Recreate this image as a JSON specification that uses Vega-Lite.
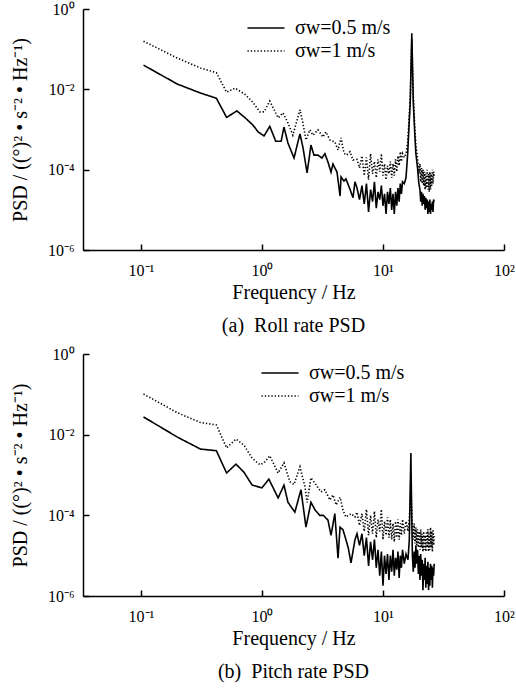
{
"$schema": "https://vega.github.io/schema/vega-lite/v6.json",
"padding": {"left": 10, "top": 1, "right": 4, "bottom": 4},
"background": "white",
"bounds": "flush",
"spacing": 104,
"data": {"values": [
{"p":"a","s":"s05","f":0.105,"v":0.04},{"p":"a","s":"s05","f":0.2,"v":0.0135},{"p":"a","s":"s05","f":0.31,"v":0.0081},{"p":"a","s":"s05","f":0.42,"v":0.006},{"p":"a","s":"s05","f":0.51,"v":0.002},{"p":"a","s":"s05","f":0.62,"v":0.0029},{"p":"a","s":"s05","f":0.72,"v":0.002},{"p":"a","s":"s05","f":0.84,"v":0.0013},{"p":"a","s":"s05","f":0.93,"v":0.00087},{"p":"a","s":"s05","f":1.04,"v":0.00069},{"p":"a","s":"s05","f":1.16,"v":0.0012},{"p":"a","s":"s05","f":1.3,"v":0.00051},{"p":"a","s":"s05","f":1.44,"v":0.00051},{"p":"a","s":"s05","f":1.52,"v":0.00115},{"p":"a","s":"s05","f":1.64,"v":0.00046},{"p":"a","s":"s05","f":1.84,"v":0.000195},{"p":"a","s":"s05","f":2.06,"v":0.00078},{"p":"a","s":"s05","f":2.18,"v":0.00036},{"p":"a","s":"s05","f":2.36,"v":8.3e-5},{"p":"a","s":"s05","f":2.54,"v":0.00041},{"p":"a","s":"s05","f":2.69,"v":0.00023},{"p":"a","s":"s05","f":2.9,"v":0.00023},{"p":"a","s":"s05","f":3.13,"v":0.000195},{"p":"a","s":"s05","f":3.31,"v":0.00025},{"p":"a","s":"s05","f":3.51,"v":0.000155},{"p":"a","s":"s05","f":3.72,"v":8.7e-5},{"p":"a","s":"s05","f":3.86,"v":0.000138},{"p":"a","s":"s05","f":4.17,"v":8.7e-5},{"p":"a","s":"s05","f":4.42,"v":2.2e-5},{"p":"a","s":"s05","f":4.5,"v":6.6e-5},{"p":"a","s":"s05","f":4.76,"v":5.2e-5},{"p":"a","s":"s05","f":4.94,"v":5.9e-5},{"p":"a","s":"s05","f":5.33,"v":3.3e-5},{"p":"a","s":"s05","f":5.65,"v":2e-5},{"p":"a","s":"s05","f":5.87,"v":5e-5},
{"p":"a","s":"s05","f":6.1,"v":3.5e-5},{"p":"a","s":"s05","f":6.4,"v":1.8e-5},{"p":"a","s":"s05","f":6.7,"v":4e-5},{"p":"a","s":"s05","f":7.0,"v":1.4e-5},{"p":"a","s":"s05","f":7.3,"v":4.5e-5},{"p":"a","s":"s05","f":7.6,"v":8.9e-6},{"p":"a","s":"s05","f":7.9,"v":3.2e-5},{"p":"a","s":"s05","f":8.2,"v":1.6e-5},{"p":"a","s":"s05","f":8.5,"v":5e-5},{"p":"a","s":"s05","f":8.8,"v":1.1e-5},{"p":"a","s":"s05","f":9.1,"v":2.8e-5},{"p":"a","s":"s05","f":9.4,"v":1.8e-5},{"p":"a","s":"s05","f":9.7,"v":4e-5},{"p":"a","s":"s05","f":10.0,"v":1.26e-5},{"p":"a","s":"s05","f":10.3,"v":2.5e-5},{"p":"a","s":"s05","f":10.6,"v":7.9e-6},{"p":"a","s":"s05","f":10.9,"v":2.8e-5},{"p":"a","s":"s05","f":11.2,"v":1.4e-5},{"p":"a","s":"s05","f":11.5,"v":3.5e-5},{"p":"a","s":"s05","f":11.8,"v":1e-5},{"p":"a","s":"s05","f":12.1,"v":2.5e-5},{"p":"a","s":"s05","f":12.4,"v":7.9e-6},{"p":"a","s":"s05","f":12.7,"v":2.8e-5},{"p":"a","s":"s05","f":13.0,"v":1.26e-5},{"p":"a","s":"s05","f":13.3,"v":3.5e-5},{"p":"a","s":"s05","f":13.6,"v":1.6e-5},{"p":"a","s":"s05","f":13.9,"v":4.5e-5},{"p":"a","s":"s05","f":14.2,"v":2.5e-5},{"p":"a","s":"s05","f":14.5,"v":5e-5},{"p":"a","s":"s05","f":15.0,"v":4.5e-5},{"p":"a","s":"s05","f":15.5,"v":6.3e-5},{"p":"a","s":"s05","f":16.0,"v":0.00025},{"p":"a","s":"s05","f":16.3,"v":0.00079},{"p":"a","s":"s05","f":16.8,"v":0.005},{"p":"a","s":"s05","f":17.3,"v":0.25},{"p":"a","s":"s05","f":17.8,"v":0.005},{"p":"a","s":"s05","f":18.3,"v":0.00079},{"p":"a","s":"s05","f":18.7,"v":0.00025},{"p":"a","s":"s05","f":19.3,"v":0.00011},{"p":"a","s":"s05","f":19.8,"v":4.5e-5},{"p":"a","s":"s05","f":20.2,"v":3.2e-5},{"p":"a","s":"s05","f":20.5,"v":1.6e-5},{"p":"a","s":"s05","f":20.8,"v":2.8e-5},{"p":"a","s":"s05","f":21.1,"v":1.26e-5},{"p":"a","s":"s05","f":21.4,"v":2.5e-5},{"p":"a","s":"s05","f":21.7,"v":1.4e-5},{"p":"a","s":"s05","f":22.0,"v":2.2e-5},{"p":"a","s":"s05","f":22.3,"v":1e-5},{"p":"a","s":"s05","f":22.6,"v":2e-5},{"p":"a","s":"s05","f":22.9,"v":1.1e-5},{"p":"a","s":"s05","f":23.2,"v":1.8e-5},{"p":"a","s":"s05","f":23.5,"v":7.9e-6},{"p":"a","s":"s05","f":23.8,"v":1.6e-5},{"p":"a","s":"s05","f":24.1,"v":8.9e-6},{"p":"a","s":"s05","f":24.4,"v":1.8e-5},{"p":"a","s":"s05","f":24.7,"v":7.9e-6},{"p":"a","s":"s05","f":25.0,"v":1.4e-5},{"p":"a","s":"s05","f":25.3,"v":1e-5},{"p":"a","s":"s05","f":25.6,"v":1.6e-5},{"p":"a","s":"s05","f":25.9,"v":8.9e-6},{"p":"a","s":"s05","f":26.2,"v":1.8e-5},{"p":"a","s":"s05","f":26.5,"v":1.6e-5},
{"p":"a","s":"s1","f":0.105,"v":0.158},{"p":"a","s":"s1","f":0.2,"v":0.06},{"p":"a","s":"s1","f":0.31,"v":0.034},{"p":"a","s":"s1","f":0.42,"v":0.026},{"p":"a","s":"s1","f":0.51,"v":0.0085},{"p":"a","s":"s1","f":0.6,"v":0.0107},{"p":"a","s":"s1","f":0.72,"v":0.0076},{"p":"a","s":"s1","f":0.84,"v":0.0048},{"p":"a","s":"s1","f":0.96,"v":0.00275},{"p":"a","s":"s1","f":1.04,"v":0.00275},{"p":"a","s":"s1","f":1.16,"v":0.0051},{"p":"a","s":"s1","f":1.36,"v":0.00195},{"p":"a","s":"s1","f":1.49,"v":0.0026},{"p":"a","s":"s1","f":1.64,"v":0.00145},{"p":"a","s":"s1","f":1.8,"v":0.00072},{"p":"a","s":"s1","f":2.06,"v":0.0031},{"p":"a","s":"s1","f":2.18,"v":0.00145},{"p":"a","s":"s1","f":2.31,"v":0.00055},{"p":"a","s":"s1","f":2.49,"v":0.00098},{"p":"a","s":"s1","f":2.64,"v":0.00072},{"p":"a","s":"s1","f":2.9,"v":0.00098},{"p":"a","s":"s1","f":3.19,"v":0.00065},{"p":"a","s":"s1","f":3.38,"v":0.00087},{"p":"a","s":"s1","f":3.64,"v":0.00055},{"p":"a","s":"s1","f":4.0,"v":0.00049},{"p":"a","s":"s1","f":4.25,"v":0.00031},{"p":"a","s":"s1","f":4.5,"v":0.00062},{"p":"a","s":"s1","f":4.76,"v":0.00026},{"p":"a","s":"s1","f":5.0,"v":0.00023},{"p":"a","s":"s1","f":5.33,"v":0.00028},{"p":"a","s":"s1","f":5.65,"v":0.000174},
{"p":"a","s":"s1","f":6.1,"v":0.00018},{"p":"a","s":"s1","f":6.4,"v":0.00011},{"p":"a","s":"s1","f":6.7,"v":0.00022},{"p":"a","s":"s1","f":7.0,"v":7.1e-5},{"p":"a","s":"s1","f":7.3,"v":0.0002},{"p":"a","s":"s1","f":7.6,"v":5.6e-5},{"p":"a","s":"s1","f":7.9,"v":0.00025},{"p":"a","s":"s1","f":8.2,"v":7.9e-5},{"p":"a","s":"s1","f":8.5,"v":0.00016},{"p":"a","s":"s1","f":8.8,"v":6.3e-5},{"p":"a","s":"s1","f":9.1,"v":0.00018},{"p":"a","s":"s1","f":9.4,"v":8.9e-5},{"p":"a","s":"s1","f":9.7,"v":0.00025},{"p":"a","s":"s1","f":10.0,"v":7.1e-5},{"p":"a","s":"s1","f":10.3,"v":0.00014},{"p":"a","s":"s1","f":10.6,"v":5.6e-5},{"p":"a","s":"s1","f":10.9,"v":0.000126},{"p":"a","s":"s1","f":11.2,"v":7.9e-5},{"p":"a","s":"s1","f":11.5,"v":0.00016},{"p":"a","s":"s1","f":11.8,"v":6.3e-5},{"p":"a","s":"s1","f":12.1,"v":0.00014},{"p":"a","s":"s1","f":12.4,"v":7.1e-5},{"p":"a","s":"s1","f":12.7,"v":0.00018},{"p":"a","s":"s1","f":13.0,"v":8.9e-5},{"p":"a","s":"s1","f":13.3,"v":0.00022},{"p":"a","s":"s1","f":13.6,"v":0.000126},{"p":"a","s":"s1","f":13.9,"v":0.00028},{"p":"a","s":"s1","f":14.2,"v":0.00016},{"p":"a","s":"s1","f":14.5,"v":0.00025},{"p":"a","s":"s1","f":15.0,"v":0.0002},{"p":"a","s":"s1","f":15.5,"v":0.00025},{"p":"a","s":"s1","f":16.0,"v":0.0005},{"p":"a","s":"s1","f":16.3,"v":0.00126},{"p":"a","s":"s1","f":16.8,"v":0.0063},{"p":"a","s":"s1","f":17.3,"v":0.178},{"p":"a","s":"s1","f":17.8,"v":0.0063},{"p":"a","s":"s1","f":18.3,"v":0.00126},{"p":"a","s":"s1","f":18.7,"v":0.0004},{"p":"a","s":"s1","f":19.3,"v":0.0002},{"p":"a","s":"s1","f":19.8,"v":7.9e-5},{"p":"a","s":"s1","f":20.2,"v":0.00014},{"p":"a","s":"s1","f":20.5,"v":5e-5},{"p":"a","s":"s1","f":20.8,"v":0.00011},{"p":"a","s":"s1","f":21.1,"v":4.5e-5},{"p":"a","s":"s1","f":21.4,"v":0.0001},{"p":"a","s":"s1","f":21.7,"v":4e-5},{"p":"a","s":"s1","f":22.0,"v":8.9e-5},{"p":"a","s":"s1","f":22.3,"v":3.2e-5},{"p":"a","s":"s1","f":22.6,"v":7.9e-5},{"p":"a","s":"s1","f":22.9,"v":3.5e-5},{"p":"a","s":"s1","f":23.2,"v":0.0001},{"p":"a","s":"s1","f":23.5,"v":3.2e-5},{"p":"a","s":"s1","f":23.8,"v":7.9e-5},{"p":"a","s":"s1","f":24.1,"v":2.8e-5},{"p":"a","s":"s1","f":24.4,"v":8.9e-5},{"p":"a","s":"s1","f":24.7,"v":3.2e-5},{"p":"a","s":"s1","f":25.0,"v":7.9e-5},{"p":"a","s":"s1","f":25.3,"v":4e-5},{"p":"a","s":"s1","f":25.6,"v":0.0001},{"p":"a","s":"s1","f":25.9,"v":4.5e-5},{"p":"a","s":"s1","f":26.2,"v":8.9e-5},{"p":"a","s":"s1","f":26.5,"v":6.3e-5},
{"p":"b","s":"s05","f":0.105,"v":0.0275},{"p":"b","s":"s05","f":0.2,"v":0.0087},{"p":"b","s":"s05","f":0.31,"v":0.0044},{"p":"b","s":"s05","f":0.42,"v":0.004},{"p":"b","s":"s05","f":0.51,"v":0.00112},{"p":"b","s":"s05","f":0.61,"v":0.00186},{"p":"b","s":"s05","f":0.71,"v":0.00117},{"p":"b","s":"s05","f":0.83,"v":0.00056},{"p":"b","s":"s05","f":1.0,"v":0.00048},{"p":"b","s":"s05","f":1.14,"v":0.00079},{"p":"b","s":"s05","f":1.36,"v":0.00027},{"p":"b","s":"s05","f":1.52,"v":0.00056},{"p":"b","s":"s05","f":1.64,"v":0.00021},{"p":"b","s":"s05","f":1.87,"v":0.00012},{"p":"b","s":"s05","f":2.1,"v":0.00043},{"p":"b","s":"s05","f":2.31,"v":5.1e-5},{"p":"b","s":"s05","f":2.54,"v":0.00021},{"p":"b","s":"s05","f":2.75,"v":0.000135},{"p":"b","s":"s05","f":3.0,"v":0.0001},{"p":"b","s":"s05","f":3.22,"v":0.0001},{"p":"b","s":"s05","f":3.51,"v":7.6e-5},{"p":"b","s":"s05","f":3.72,"v":3.2e-5},{"p":"b","s":"s05","f":4.0,"v":0.00011},{"p":"b","s":"s05","f":4.25,"v":8.7e-6},{"p":"b","s":"s05","f":4.42,"v":5.1e-5},{"p":"b","s":"s05","f":4.67,"v":4.4e-5},{"p":"b","s":"s05","f":4.94,"v":2.5e-5},{"p":"b","s":"s05","f":5.17,"v":1.55e-5},{"p":"b","s":"s05","f":5.44,"v":6.6e-6},{"p":"b","s":"s05","f":5.87,"v":2.5e-5},
{"p":"b","s":"s05","f":6.1,"v":3.5e-5},{"p":"b","s":"s05","f":6.4,"v":1.8e-5},{"p":"b","s":"s05","f":6.7,"v":3.5e-5},{"p":"b","s":"s05","f":7.0,"v":1e-5},{"p":"b","s":"s05","f":7.3,"v":2.8e-5},{"p":"b","s":"s05","f":7.6,"v":5.6e-6},{"p":"b","s":"s05","f":7.9,"v":2.2e-5},{"p":"b","s":"s05","f":8.2,"v":7.9e-6},{"p":"b","s":"s05","f":8.5,"v":2.5e-5},{"p":"b","s":"s05","f":8.8,"v":5e-6},{"p":"b","s":"s05","f":9.1,"v":1.4e-5},{"p":"b","s":"s05","f":9.4,"v":3.2e-6},{"p":"b","s":"s05","f":9.7,"v":1.26e-5},{"p":"b","s":"s05","f":10.0,"v":1.8e-6},{"p":"b","s":"s05","f":10.3,"v":1e-5},{"p":"b","s":"s05","f":10.6,"v":3.5e-6},{"p":"b","s":"s05","f":10.9,"v":1.1e-5},{"p":"b","s":"s05","f":11.2,"v":2.5e-6},{"p":"b","s":"s05","f":11.5,"v":1e-5},{"p":"b","s":"s05","f":11.8,"v":4e-6},{"p":"b","s":"s05","f":12.1,"v":1.4e-5},{"p":"b","s":"s05","f":12.4,"v":3.2e-6},{"p":"b","s":"s05","f":12.7,"v":8.9e-6},{"p":"b","s":"s05","f":13.0,"v":4.5e-6},{"p":"b","s":"s05","f":13.3,"v":1.26e-5},{"p":"b","s":"s05","f":13.6,"v":2.8e-6},{"p":"b","s":"s05","f":13.9,"v":1e-5},{"p":"b","s":"s05","f":14.2,"v":5e-6},{"p":"b","s":"s05","f":14.5,"v":1.4e-5},{"p":"b","s":"s05","f":15.0,"v":6.3e-6},{"p":"b","s":"s05","f":15.5,"v":1.1e-5},{"p":"b","s":"s05","f":16.1,"v":7.9e-6},{"p":"b","s":"s05","f":16.5,"v":2.5e-5},{"p":"b","s":"s05","f":16.8,"v":0.0005},{"p":"b","s":"s05","f":17.0,"v":0.0035},{"p":"b","s":"s05","f":17.2,"v":0.00025},{"p":"b","s":"s05","f":17.5,"v":1e-5},{"p":"b","s":"s05","f":17.8,"v":4e-6},{"p":"b","s":"s05","f":18.1,"v":1.26e-5},{"p":"b","s":"s05","f":18.4,"v":5e-6},{"p":"b","s":"s05","f":18.7,"v":1.8e-5},{"p":"b","s":"s05","f":19.0,"v":6.3e-6},{"p":"b","s":"s05","f":19.3,"v":1.4e-5},{"p":"b","s":"s05","f":19.6,"v":3.5e-6},{"p":"b","s":"s05","f":19.9,"v":1e-5},{"p":"b","s":"s05","f":20.2,"v":2.5e-6},{"p":"b","s":"s05","f":20.5,"v":1.1e-5},{"p":"b","s":"s05","f":20.8,"v":3.2e-6},{"p":"b","s":"s05","f":21.1,"v":7.9e-6},{"p":"b","s":"s05","f":21.4,"v":1.4e-6},{"p":"b","s":"s05","f":21.7,"v":6.3e-6},{"p":"b","s":"s05","f":22.0,"v":2.5e-6},{"p":"b","s":"s05","f":22.3,"v":8.9e-6},{"p":"b","s":"s05","f":22.6,"v":1.6e-6},{"p":"b","s":"s05","f":22.9,"v":5.6e-6},{"p":"b","s":"s05","f":23.2,"v":2e-6},{"p":"b","s":"s05","f":23.5,"v":7.1e-6},{"p":"b","s":"s05","f":23.8,"v":1.4e-6},{"p":"b","s":"s05","f":24.1,"v":5e-6},{"p":"b","s":"s05","f":24.4,"v":1.8e-6},{"p":"b","s":"s05","f":24.7,"v":6.3e-6},{"p":"b","s":"s05","f":25.0,"v":2.5e-6},{"p":"b","s":"s05","f":25.3,"v":5.6e-6},{"p":"b","s":"s05","f":25.6,"v":1.6e-6},{"p":"b","s":"s05","f":25.9,"v":5e-6},{"p":"b","s":"s05","f":26.2,"v":3.2e-6},{"p":"b","s":"s05","f":26.5,"v":6.3e-6},
{"p":"b","s":"s1","f":0.105,"v":0.102},{"p":"b","s":"s1","f":0.2,"v":0.035},{"p":"b","s":"s1","f":0.31,"v":0.02},{"p":"b","s":"s1","f":0.42,"v":0.0174},{"p":"b","s":"s1","f":0.51,"v":0.0047},{"p":"b","s":"s1","f":0.61,"v":0.0078},{"p":"b","s":"s1","f":0.71,"v":0.0055},{"p":"b","s":"s1","f":0.83,"v":0.0026},{"p":"b","s":"s1","f":0.96,"v":0.0018},{"p":"b","s":"s1","f":1.04,"v":0.002},{"p":"b","s":"s1","f":1.16,"v":0.003},{"p":"b","s":"s1","f":1.36,"v":0.00112},{"p":"b","s":"s1","f":1.52,"v":0.002},{"p":"b","s":"s1","f":1.7,"v":0.00068},{"p":"b","s":"s1","f":1.84,"v":0.00058},{"p":"b","s":"s1","f":2.06,"v":0.0016},{"p":"b","s":"s1","f":2.27,"v":0.0005},{"p":"b","s":"s1","f":2.36,"v":0.00021},{"p":"b","s":"s1","f":2.54,"v":0.00085},{"p":"b","s":"s1","f":2.74,"v":0.00063},{"p":"b","s":"s1","f":3.07,"v":0.00038},{"p":"b","s":"s1","f":3.31,"v":0.00043},{"p":"b","s":"s1","f":3.64,"v":0.00024},{"p":"b","s":"s1","f":3.86,"v":0.00032},{"p":"b","s":"s1","f":4.1,"v":0.00018},{"p":"b","s":"s1","f":4.42,"v":0.00028},{"p":"b","s":"s1","f":4.67,"v":0.000135},{"p":"b","s":"s1","f":4.94,"v":9.1e-5},{"p":"b","s":"s1","f":5.44,"v":0.00011},{"p":"b","s":"s1","f":5.87,"v":9.1e-5},
{"p":"b","s":"s1","f":6.1,"v":0.00012},{"p":"b","s":"s1","f":6.4,"v":5.6e-5},{"p":"b","s":"s1","f":6.7,"v":0.00011},{"p":"b","s":"s1","f":7.0,"v":4e-5},{"p":"b","s":"s1","f":7.3,"v":0.00014},{"p":"b","s":"s1","f":7.6,"v":3.2e-5},{"p":"b","s":"s1","f":7.9,"v":0.0001},{"p":"b","s":"s1","f":8.2,"v":3.5e-5},{"p":"b","s":"s1","f":8.5,"v":0.000126},{"p":"b","s":"s1","f":8.8,"v":2.8e-5},{"p":"b","s":"s1","f":9.1,"v":7.9e-5},{"p":"b","s":"s1","f":9.4,"v":4e-5},{"p":"b","s":"s1","f":9.7,"v":0.00014},{"p":"b","s":"s1","f":10.0,"v":2.5e-5},{"p":"b","s":"s1","f":10.3,"v":7.1e-5},{"p":"b","s":"s1","f":10.6,"v":3.2e-5},{"p":"b","s":"s1","f":10.9,"v":8.9e-5},{"p":"b","s":"s1","f":11.2,"v":2.8e-5},{"p":"b","s":"s1","f":11.5,"v":7.9e-5},{"p":"b","s":"s1","f":11.8,"v":2.5e-5},{"p":"b","s":"s1","f":12.1,"v":6.3e-5},{"p":"b","s":"s1","f":12.4,"v":2.2e-5},{"p":"b","s":"s1","f":12.7,"v":7.1e-5},{"p":"b","s":"s1","f":13.0,"v":2.8e-5},{"p":"b","s":"s1","f":13.3,"v":7.9e-5},{"p":"b","s":"s1","f":13.6,"v":2.5e-5},{"p":"b","s":"s1","f":13.9,"v":6.3e-5},{"p":"b","s":"s1","f":14.2,"v":3.2e-5},{"p":"b","s":"s1","f":14.5,"v":7.9e-5},{"p":"b","s":"s1","f":15.0,"v":3.5e-5},{"p":"b","s":"s1","f":15.5,"v":7.1e-5},{"p":"b","s":"s1","f":16.1,"v":4e-5},{"p":"b","s":"s1","f":16.5,"v":7.9e-5},{"p":"b","s":"s1","f":16.8,"v":0.00025},{"p":"b","s":"s1","f":17.0,"v":0.00079},{"p":"b","s":"s1","f":17.2,"v":0.0002},{"p":"b","s":"s1","f":17.5,"v":5e-5},{"p":"b","s":"s1","f":17.8,"v":2.5e-5},{"p":"b","s":"s1","f":18.1,"v":6.3e-5},{"p":"b","s":"s1","f":18.4,"v":2e-5},{"p":"b","s":"s1","f":18.7,"v":5e-5},{"p":"b","s":"s1","f":19.0,"v":1.8e-5},{"p":"b","s":"s1","f":19.3,"v":4.5e-5},{"p":"b","s":"s1","f":19.6,"v":1.6e-5},{"p":"b","s":"s1","f":19.9,"v":4e-5},{"p":"b","s":"s1","f":20.2,"v":1.4e-5},{"p":"b","s":"s1","f":20.5,"v":4.5e-5},{"p":"b","s":"s1","f":20.8,"v":1.6e-5},{"p":"b","s":"s1","f":21.1,"v":3.5e-5},{"p":"b","s":"s1","f":21.4,"v":1.26e-5},{"p":"b","s":"s1","f":21.7,"v":4e-5},{"p":"b","s":"s1","f":22.0,"v":1.4e-5},{"p":"b","s":"s1","f":22.3,"v":3.2e-5},{"p":"b","s":"s1","f":22.6,"v":1.26e-5},{"p":"b","s":"s1","f":22.9,"v":4e-5},{"p":"b","s":"s1","f":23.2,"v":1.6e-5},{"p":"b","s":"s1","f":23.5,"v":4.5e-5},{"p":"b","s":"s1","f":23.8,"v":1.26e-5},{"p":"b","s":"s1","f":24.1,"v":3.5e-5},{"p":"b","s":"s1","f":24.4,"v":1.4e-5},{"p":"b","s":"s1","f":24.7,"v":5e-5},{"p":"b","s":"s1","f":25.0,"v":1.6e-5},{"p":"b","s":"s1","f":25.3,"v":4e-5},{"p":"b","s":"s1","f":25.6,"v":1.26e-5},{"p":"b","s":"s1","f":25.9,"v":4.5e-5},{"p":"b","s":"s1","f":26.2,"v":1.8e-5},{"p":"b","s":"s1","f":26.5,"v":3.5e-5}
]},
"vconcat": [
{
"title": {"text": "(a) \u00a0Roll rate PSD", "orient": "bottom", "anchor": "middle", "offset": 14, "font": "Liberation Serif", "fontSize": 20, "fontWeight": "normal", "color": "black"},
"width": 421, "height": 241,
"transform": [{"filter": "datum.p === 'a'"}],
"mark": {"type": "line", "color": "black", "strokeWidth": 1.6, "strokeJoin": "miter", "clip": true},
"encoding": {
"x": {"field": "f", "type": "quantitative", "scale": {"type": "log", "domain": [0.0332, 100], "nice": false}, "axis": {"title": "Frequency / Hz", "values": [0.1, 1, 10, 100], "labelExpr": "datum.value < 0.5 ? '10⁻¹' : datum.value < 5 ? '10⁰' : datum.value < 50 ? '10¹' : '10²'", "tickSize": -6, "tickColor": "black", "tickWidth": 1.5, "domainColor": "black", "domainWidth": 1.5, "labelPadding": 18, "labelDx": -4, "titlePadding": 4}},
"y": {"field": "v", "type": "quantitative", "scale": {"type": "log", "domain": [1e-6, 1], "nice": false}, "axis": {"title": "PSD / ((°)² • s⁻² • Hz⁻¹)", "values": [1e-6, 1e-4, 1e-2, 1], "labelExpr": "datum.value > 0.5 ? '10⁰' : datum.value > 0.005 ? '10⁻²' : datum.value > 5e-5 ? '10⁻⁴' : '10⁻⁶'", "tickSize": -6, "tickColor": "black", "tickWidth": 1.5, "domainColor": "black", "domainWidth": 1.5, "labelPadding": 15, "labelDy": 2, "titlePadding": 17}},
"strokeDash": {"field": "s", "type": "nominal", "scale": {"domain": ["s05", "s1"], "range": [[1, 0], [1.3, 2]]}, "legend": {"orient": "none", "legendX": 173, "legendY": 9, "title": null, "labelExpr": "datum.value === 's05' ? 'σw=0.5 m/s' : 'σw=1 m/s'", "symbolType": "M-4,0H4", "symbolSize": 85.6, "symbolStrokeWidth": 1.5, "symbolStrokeColor": "black", "labelFont": "Liberation Serif", "labelFontSize": 20, "labelColor": "black", "labelOffset": 19, "rowPadding": 3, "padding": 0}}
}
},
{
"title": {"text": "(b) \u00a0Pitch rate PSD", "orient": "bottom", "anchor": "middle", "offset": 14, "font": "Liberation Serif", "fontSize": 20, "fontWeight": "normal", "color": "black"},
"width": 421, "height": 242,
"transform": [{"filter": "datum.p === 'b'"}],
"mark": {"type": "line", "color": "black", "strokeWidth": 1.6, "strokeJoin": "miter", "clip": true},
"encoding": {
"x": {"field": "f", "type": "quantitative", "scale": {"type": "log", "domain": [0.0332, 100], "nice": false}, "axis": {"title": "Frequency / Hz", "values": [0.1, 1, 10, 100], "labelExpr": "datum.value < 0.5 ? '10⁻¹' : datum.value < 5 ? '10⁰' : datum.value < 50 ? '10¹' : '10²'", "tickSize": -6, "tickColor": "black", "tickWidth": 1.5, "domainColor": "black", "domainWidth": 1.5, "labelPadding": 18, "labelDx": -4, "titlePadding": 4}},
"y": {"field": "v", "type": "quantitative", "scale": {"type": "log", "domain": [1e-6, 1], "nice": false}, "axis": {"title": "PSD / ((°)² • s⁻² • Hz⁻¹)", "values": [1e-6, 1e-4, 1e-2, 1], "labelExpr": "datum.value > 0.5 ? '10⁰' : datum.value > 0.005 ? '10⁻²' : datum.value > 5e-5 ? '10⁻⁴' : '10⁻⁶'", "tickSize": -6, "tickColor": "black", "tickWidth": 1.5, "domainColor": "black", "domainWidth": 1.5, "labelPadding": 15, "labelDy": 2, "titlePadding": 17}},
"strokeDash": {"field": "s", "type": "nominal", "scale": {"domain": ["s05", "s1"], "range": [[1, 0], [1.3, 2]]}, "legend": {"orient": "none", "legendX": 187, "legendY": 9, "title": null, "labelExpr": "datum.value === 's05' ? 'σw=0.5 m/s' : 'σw=1 m/s'", "symbolType": "M-4,0H4", "symbolSize": 85.6, "symbolStrokeWidth": 1.5, "symbolStrokeColor": "black", "labelFont": "Liberation Serif", "labelFontSize": 20, "labelColor": "black", "labelOffset": 19, "rowPadding": 3, "padding": 0}}
}
}
],
"resolve": {"legend": {"strokeDash": "independent"}, "scale": {"strokeDash": "independent"}},
"config": {
"view": {"stroke": null},
"font": "Liberation Serif",
"axis": {"grid": false, "domainColor": "black", "domainWidth": 1.5, "tickColor": "black", "tickWidth": 1.5, "labelFont": "Liberation Serif", "labelFontSize": 16, "labelColor": "black", "titleFont": "Liberation Serif", "titleFontSize": 20, "titleFontWeight": "normal", "titleColor": "black", "labelOverlap": false, "labelFlush": false}
}
}
